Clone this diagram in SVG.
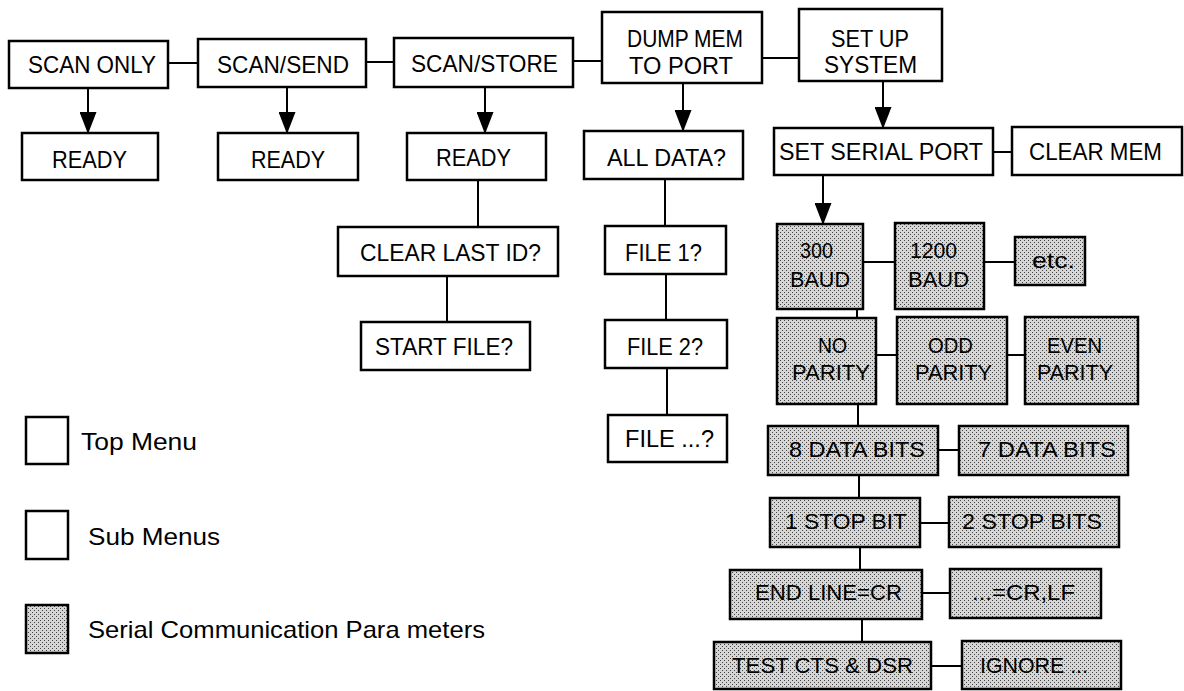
<svg xmlns="http://www.w3.org/2000/svg" width="1184" height="691" viewBox="0 0 1184 691">
<defs>
<pattern id="stip" width="4" height="4" patternUnits="userSpaceOnUse">
<rect width="4" height="4" fill="#d6d6d6"/>
<rect x="0" y="0" width="1" height="1" fill="#444"/>
<rect x="2" y="2" width="1" height="1" fill="#444"/>
</pattern>
<marker id="arr" viewBox="0 0 22 17" refX="21" refY="8.5" markerWidth="22" markerHeight="17" markerUnits="userSpaceOnUse" orient="auto">
<path d="M0,0 L22,8.5 L0,17 z" fill="#000"/>
</marker>
</defs>
<style>
.b{fill:#fff;stroke:#000;stroke-width:2.5}
.s{fill:url(#stip);stroke:#000;stroke-width:2.5}
.c{stroke:#000;stroke-width:2;fill:none}
text{font-family:"Liberation Sans",Arial,sans-serif;font-size:24px;fill:#000}
.g{font-size:22px}
.l{font-size:24px}
</style>
<rect width="1184" height="691" fill="#fff"/>
<g id="connectors">
<line class="c" x1="88" y1="88" x2="88" y2="133" marker-end="url(#arr)"/>
<line class="c" x1="287" y1="87" x2="287" y2="133" marker-end="url(#arr)"/>
<line class="c" x1="485" y1="87" x2="485" y2="133" marker-end="url(#arr)"/>
<line class="c" x1="683" y1="83" x2="683" y2="131" marker-end="url(#arr)"/>
<line class="c" x1="883" y1="81" x2="883" y2="128" marker-end="url(#arr)"/>
<line class="c" x1="823" y1="175" x2="823" y2="224" marker-end="url(#arr)"/>
<line class="c" x1="168" y1="63" x2="198" y2="63"/>
<line class="c" x1="366" y1="62" x2="394" y2="62"/>
<line class="c" x1="573" y1="61" x2="602" y2="61"/>
<line class="c" x1="762" y1="58" x2="799" y2="58"/>
<line class="c" x1="993" y1="152" x2="1012" y2="152"/>
<line class="c" x1="478" y1="180" x2="478" y2="227"/>
<line class="c" x1="447" y1="276" x2="447" y2="322"/>
<line class="c" x1="665" y1="179" x2="665" y2="226"/>
<line class="c" x1="666" y1="274" x2="666" y2="320"/>
<line class="c" x1="667" y1="368" x2="667" y2="415"/>
<line class="c" x1="863" y1="262" x2="895" y2="262"/>
<line class="c" x1="984" y1="262" x2="1015" y2="262"/>
<line class="c" x1="857" y1="309" x2="857" y2="318"/>
<line class="c" x1="876" y1="355" x2="897" y2="355"/>
<line class="c" x1="1007" y1="355" x2="1025" y2="355"/>
<line class="c" x1="858" y1="404" x2="858" y2="426"/>
<line class="c" x1="938" y1="450" x2="959" y2="450"/>
<line class="c" x1="859" y1="475" x2="859" y2="498"/>
<line class="c" x1="920" y1="523" x2="949" y2="523"/>
<line class="c" x1="860" y1="547" x2="860" y2="570"/>
<line class="c" x1="922" y1="593" x2="950" y2="593"/>
<line class="c" x1="862" y1="618" x2="862" y2="642"/>
<line class="c" x1="931" y1="666" x2="962" y2="666"/>
</g>
<g id="scan-only"><rect class="b" x="9" y="41" width="159" height="47"/><text x="28" y="73" textLength="128" lengthAdjust="spacingAndGlyphs">SCAN ONLY</text></g>
<g id="scan-send"><rect class="b" x="198" y="39" width="168" height="48"/><text x="217" y="73" textLength="132" lengthAdjust="spacingAndGlyphs">SCAN/SEND</text></g>
<g id="scan-store"><rect class="b" x="394" y="38" width="179" height="49"/><text x="411" y="72" textLength="147" lengthAdjust="spacingAndGlyphs">SCAN/STORE</text></g>
<g id="dump-mem"><rect class="b" x="602" y="12" width="160" height="71"/><text x="627" y="47" textLength="116" lengthAdjust="spacingAndGlyphs">DUMP MEM</text><text x="629" y="74" textLength="104" lengthAdjust="spacingAndGlyphs">TO PORT</text></g>
<g id="set-up"><rect class="b" x="799" y="9" width="143" height="72"/><text x="831" y="47" textLength="78" lengthAdjust="spacingAndGlyphs">SET UP</text><text x="824" y="73" textLength="93" lengthAdjust="spacingAndGlyphs">SYSTEM</text></g>
<g id="ready-1"><rect class="b" x="22" y="133" width="136" height="47"/><text x="52" y="168" textLength="75" lengthAdjust="spacingAndGlyphs">READY</text></g>
<g id="ready-2"><rect class="b" x="218" y="133" width="140" height="47"/><text x="251" y="168" textLength="74" lengthAdjust="spacingAndGlyphs">READY</text></g>
<g id="ready-3"><rect class="b" x="407" y="133" width="139" height="47"/><text x="436" y="166" textLength="75" lengthAdjust="spacingAndGlyphs">READY</text></g>
<g id="all-data"><rect class="b" x="584" y="131" width="159" height="48"/><text x="607" y="166" textLength="119" lengthAdjust="spacingAndGlyphs">ALL DATA?</text></g>
<g id="set-serial"><rect class="b" x="774" y="128" width="219" height="47"/><text x="779" y="160" textLength="204" lengthAdjust="spacingAndGlyphs">SET SERIAL PORT</text></g>
<g id="clear-mem"><rect class="b" x="1012" y="127" width="170" height="48"/><text x="1029" y="160" textLength="133" lengthAdjust="spacingAndGlyphs">CLEAR MEM</text></g>
<g id="clear-last"><rect class="b" x="338" y="227" width="220" height="49"/><text x="360" y="261" textLength="181" lengthAdjust="spacingAndGlyphs">CLEAR LAST ID?</text></g>
<g id="start-file"><rect class="b" x="361" y="322" width="169" height="48"/><text x="375" y="355" textLength="138" lengthAdjust="spacingAndGlyphs">START FILE?</text></g>
<g id="file-1"><rect class="b" x="605" y="226" width="121" height="48"/><text x="625" y="261" textLength="77" lengthAdjust="spacingAndGlyphs">FILE 1?</text></g>
<g id="file-2"><rect class="b" x="605" y="320" width="122" height="48"/><text x="627" y="355" textLength="76" lengthAdjust="spacingAndGlyphs">FILE 2?</text></g>
<g id="file-n"><rect class="b" x="608" y="415" width="119" height="47"/><text x="625" y="447" textLength="89" lengthAdjust="spacingAndGlyphs">FILE ...?</text></g>
<g id="baud-300"><rect class="s" x="777" y="224" width="86" height="85"/><text class="g" x="800" y="258" textLength="33" lengthAdjust="spacingAndGlyphs">300</text><text class="g" x="790" y="287" textLength="60" lengthAdjust="spacingAndGlyphs">BAUD</text></g>
<g id="baud-1200"><rect class="s" x="895" y="223" width="89" height="86"/><text class="g" x="910" y="258" textLength="47" lengthAdjust="spacingAndGlyphs">1200</text><text class="g" x="908" y="287" textLength="61" lengthAdjust="spacingAndGlyphs">BAUD</text></g>
<g id="baud-etc"><rect class="s" x="1015" y="237" width="70" height="48"/><text class="g" x="1032" y="268" textLength="43" lengthAdjust="spacingAndGlyphs">etc.</text></g>
<g id="no-parity"><rect class="s" x="777" y="318" width="99" height="86"/><text class="g" x="818" y="353" textLength="29" lengthAdjust="spacingAndGlyphs">NO</text><text class="g" x="792" y="380" textLength="78" lengthAdjust="spacingAndGlyphs">PARITY</text></g>
<g id="odd-parity"><rect class="s" x="897" y="317" width="110" height="87"/><text class="g" x="928" y="353" textLength="45" lengthAdjust="spacingAndGlyphs">ODD</text><text class="g" x="915" y="380" textLength="77" lengthAdjust="spacingAndGlyphs">PARITY</text></g>
<g id="even-parity"><rect class="s" x="1025" y="317" width="113" height="87"/><text class="g" x="1047" y="353" textLength="55" lengthAdjust="spacingAndGlyphs">EVEN</text><text class="g" x="1037" y="380" textLength="76" lengthAdjust="spacingAndGlyphs">PARITY</text></g>
<g id="data-8"><rect class="s" x="768" y="426" width="170" height="49"/><text class="g" x="789" y="457" textLength="136" lengthAdjust="spacingAndGlyphs">8 DATA BITS</text></g>
<g id="data-7"><rect class="s" x="959" y="426" width="169" height="49"/><text class="g" x="978" y="457" textLength="138" lengthAdjust="spacingAndGlyphs">7 DATA BITS</text></g>
<g id="stop-1"><rect class="s" x="770" y="498" width="150" height="49"/><text class="g" x="785" y="529" textLength="122" lengthAdjust="spacingAndGlyphs">1 STOP BIT</text></g>
<g id="stop-2"><rect class="s" x="949" y="497" width="170" height="50"/><text class="g" x="962" y="529" textLength="140" lengthAdjust="spacingAndGlyphs">2 STOP BITS</text></g>
<g id="end-cr"><rect class="s" x="730" y="570" width="192" height="49"/><text class="g" x="755" y="600" textLength="147" lengthAdjust="spacingAndGlyphs">END LINE=CR</text></g>
<g id="end-crlf"><rect class="s" x="950" y="569" width="151" height="49"/><text class="g" x="972" y="600" textLength="103" lengthAdjust="spacingAndGlyphs">...=CR,LF</text></g>
<g id="test-cts"><rect class="s" x="714" y="642" width="217" height="47"/><text class="g" x="732" y="673" textLength="181" lengthAdjust="spacingAndGlyphs">TEST CTS &amp; DSR</text></g>
<g id="ignore"><rect class="s" x="962" y="641" width="159" height="48"/><text class="g" x="980" y="673" textLength="108" lengthAdjust="spacingAndGlyphs">IGNORE ...</text></g>
<g id="legend-top"><rect class="b" x="26" y="417" width="42" height="47"/><text class="l" x="81" y="450" textLength="116" lengthAdjust="spacingAndGlyphs">Top  Menu</text></g>
<g id="legend-sub"><rect class="b" x="26" y="511" width="42" height="48"/><text class="l" x="88" y="545" textLength="132" lengthAdjust="spacingAndGlyphs">Sub  Menus</text></g>
<g id="legend-serial"><rect class="s" x="26" y="605" width="42" height="48"/><text class="l" x="88" y="638" textLength="397" lengthAdjust="spacingAndGlyphs">Serial  Communication  Para meters</text></g>
</svg>
